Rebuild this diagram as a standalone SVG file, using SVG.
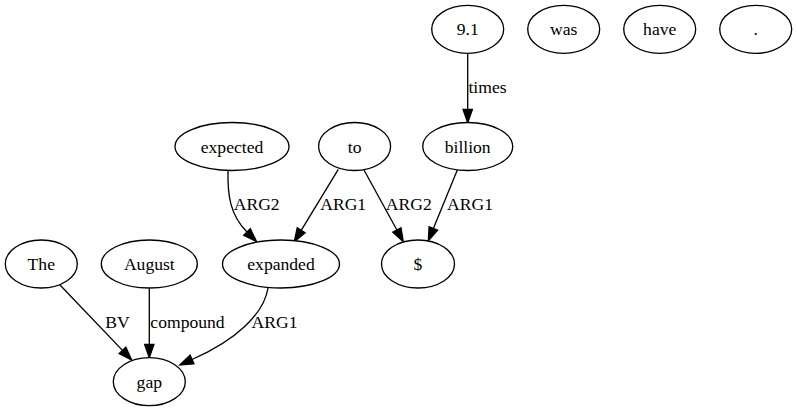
<svg xmlns="http://www.w3.org/2000/svg" width="797" height="411" viewBox="0 0 797 411">
<defs>
<style>
.node ellipse{fill:#fff;stroke:#000;stroke-width:1.33}
.node text{font-family:"Liberation Serif","Times New Roman",serif;font-size:17.6px;text-anchor:middle;fill:#000}
.edges path{fill:none;stroke:#000;stroke-width:1.33}
.edges text{font-family:"Liberation Serif","Times New Roman",serif;font-size:17.6px;text-anchor:middle;fill:#000}
</style>
<marker id="arr" markerUnits="userSpaceOnUse" markerWidth="13.33" markerHeight="9.33" viewBox="0 0 13.33 9.33" refX="0" refY="4.67" orient="auto" overflow="visible">
<path d="M0,0 L13.33,4.67 L0,9.33 Z" fill="#000" stroke="#000" stroke-width="1.33"/>
</marker>
</defs>
<rect width="797" height="411" fill="#fff"/>
<g id="edges" class="edges">
<path d="M467.7,53.3 L467.7,109.5" marker-end="url(#arr)"/>
<text x="487.5" y="93">times</text>
<path d="M228,171 C227.5,195 230,215 247,232" marker-end="url(#arr)"/>
<text x="256.7" y="210">ARG2</text>
<path d="M338.3,169.3 L301.2,230.3" marker-end="url(#arr)"/>
<text x="343.2" y="210">ARG1</text>
<path d="M364,170 L396.9,230" marker-end="url(#arr)"/>
<text x="408.8" y="210">ARG2</text>
<path d="M457.3,170 L433.4,228.4" marker-end="url(#arr)"/>
<text x="470" y="210">ARG1</text>
<path d="M60,285 L122.5,350.4" marker-end="url(#arr)"/>
<text x="117.5" y="328">BV</text>
<path d="M149.3,288.2 L149.3,344.3" marker-end="url(#arr)"/>
<text x="187.5" y="328">compound</text>
<path d="M268,288 C264,314 236,340 192,359.5" marker-end="url(#arr)"/>
<text x="274.5" y="328">ARG1</text>
</g>
<g id="n-9.1" class="node"><ellipse cx="467.7" cy="29.3" rx="36" ry="24"/><text x="467.7" y="35.3">9.1</text></g>
<g id="n-was" class="node"><ellipse cx="563.7" cy="29.3" rx="36" ry="24"/><text x="563.7" y="35.3">was</text></g>
<g id="n-have" class="node"><ellipse cx="659.7" cy="29.3" rx="36" ry="24"/><text x="659.7" y="35.3">have</text></g>
<g id="n-dot" class="node"><ellipse cx="755.7" cy="29.3" rx="36" ry="24"/><text x="755.7" y="35.3">.</text></g>
<g id="n-expected" class="node"><ellipse cx="232" cy="146.5" rx="57" ry="24"/><text x="232" y="152.5">expected</text></g>
<g id="n-to" class="node"><ellipse cx="354.6" cy="146.5" rx="36" ry="24"/><text x="354.6" y="152.5">to</text></g>
<g id="n-billion" class="node"><ellipse cx="467.7" cy="146.5" rx="45" ry="24"/><text x="467.7" y="152.5">billion</text></g>
<g id="n-The" class="node"><ellipse cx="41.3" cy="264" rx="36" ry="24"/><text x="41.3" y="270">The</text></g>
<g id="n-August" class="node"><ellipse cx="149.3" cy="264" rx="48" ry="24"/><text x="149.3" y="270">August</text></g>
<g id="n-expanded" class="node"><ellipse cx="281" cy="264" rx="58.5" ry="24"/><text x="281" y="270">expanded</text></g>
<g id="n-dollar" class="node"><ellipse cx="418" cy="264" rx="36.5" ry="24"/><text x="418" y="270">$</text></g>
<g id="n-gap" class="node"><ellipse cx="149.3" cy="381.7" rx="36" ry="24"/><text x="149.3" y="387.7">gap</text></g>
</svg>
